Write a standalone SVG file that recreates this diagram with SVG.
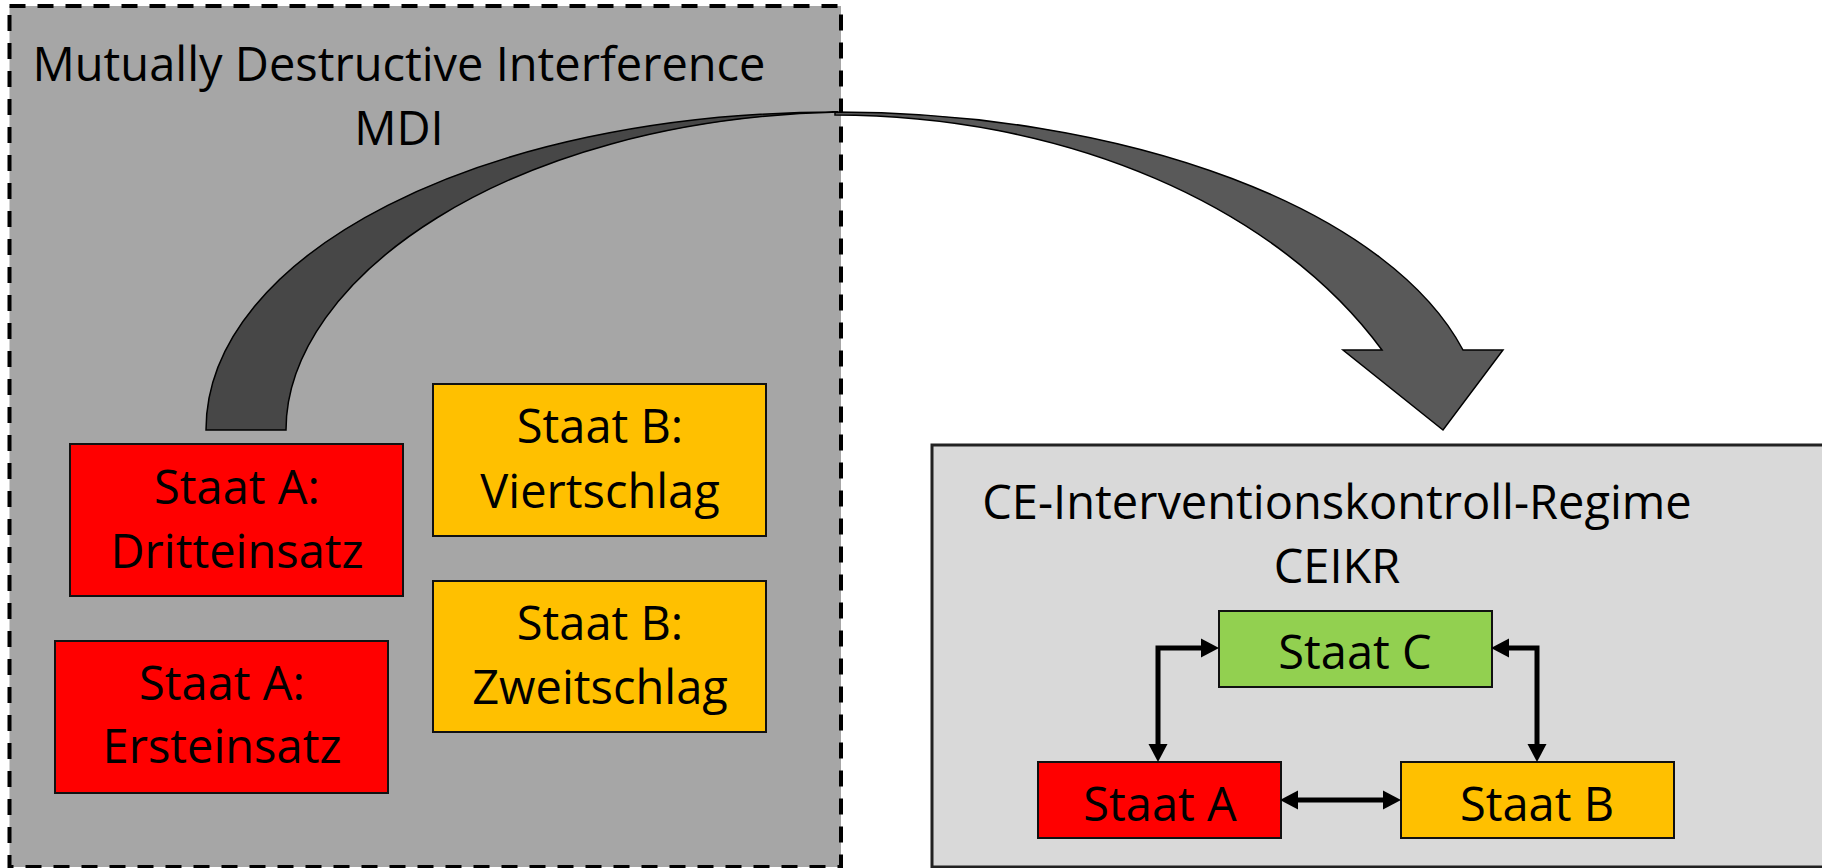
<svg xmlns="http://www.w3.org/2000/svg" width="1822" height="868" viewBox="0 0 1822 868">
  <style>
    text { font-family: "Open Sans", Lato, "Liberation Sans", sans-serif; fill: #000; text-anchor: middle; }
    .t { font-size: 47px; }
    .box { stroke: #111; stroke-width: 2; }
    .red { fill: #ff0000; }
    .org { fill: #ffc000; }
    .grn { fill: #92d050; }
    .conn { fill: none; stroke: #000; stroke-width: 5; stroke-linejoin: miter; }
  </style>
  <defs>
    <marker id="ah" markerUnits="userSpaceOnUse" markerWidth="19" markerHeight="20" viewBox="0 0 19 20" refX="0" refY="10" orient="auto-start-reverse">
      <path d="M0,0.5 L18,10 L0,19.5 Z" fill="#000"/>
    </marker>
  </defs>
  <rect width="1822" height="868" fill="#ffffff"/>

  <g id="mdi">
    <rect x="9.5" y="6" width="831.5" height="861" fill="#a6a6a6" stroke="#000" stroke-width="4" stroke-dasharray="16 12"/>
    <text class="t" x="399" y="81">Mutually Destructive Interference</text>
    <text class="t" x="399" y="145">MDI</text>
  </g>

  <g id="ceikr">
    <rect x="932" y="445" width="900" height="422" fill="#d9d9d9" stroke="#222" stroke-width="3"/>
    <text class="t" x="1337" y="519">CE-Interventionskontroll-Regime</text>
    <text class="t" x="1337" y="583">CEIKR</text>
  </g>

  <g id="mdi-a3">
    <rect class="box red" x="70" y="444" width="333" height="152"/>
    <text class="t" x="237" y="504">Staat A:</text>
    <text class="t" x="237" y="568">Dritteinsatz</text>
  </g>
  <g id="mdi-a1">
    <rect class="box red" x="55" y="641" width="333" height="152"/>
    <text class="t" x="222" y="700">Staat A:</text>
    <text class="t" x="222" y="763">Ersteinsatz</text>
  </g>
  <g id="mdi-b4">
    <rect class="box org" x="433" y="384" width="333" height="152"/>
    <text class="t" x="600" y="443">Staat B:</text>
    <text class="t" x="600" y="508">Viertschlag</text>
  </g>
  <g id="mdi-b2">
    <rect class="box org" x="433" y="581" width="333" height="151"/>
    <text class="t" x="600" y="640">Staat B:</text>
    <text class="t" x="600" y="704">Zweitschlag</text>
  </g>

  <g id="c-c">
    <rect class="box grn" x="1219" y="611" width="273" height="76"/>
    <text class="t" x="1355" y="669">Staat C</text>
  </g>
  <g id="c-a">
    <rect class="box red" x="1038" y="762" width="243" height="76"/>
    <text class="t" x="1160" y="821">Staat A</text>
  </g>
  <g id="c-b">
    <rect class="box org" x="1401" y="762" width="273" height="76"/>
    <text class="t" x="1537" y="821">Staat B</text>
  </g>

  <g id="connectors">
    <path class="conn" d="M1201,648 H1158 V744" marker-start="url(#ah)" marker-end="url(#ah)"/>
    <path class="conn" d="M1509,648 H1537 V744" marker-start="url(#ah)" marker-end="url(#ah)"/>
    <path class="conn" d="M1298,800 H1383" marker-start="url(#ah)" marker-end="url(#ah)"/>
    <g id="curved-arrow" stroke="#000" stroke-width="1.5" stroke-linejoin="miter">
      <path d="M206,430 C206,255 480,112 838,112 C505,120 286,280 286,430 Z" fill="#474747"/>
      <path d="M835,112 A649,318 0 0 1 1463,350 L1503,350 L1443,430 L1343,350 L1382,350 A616,435 0 0 0 835,115 Z" fill="#595959"/>
    </g>
  </g>
</svg>
